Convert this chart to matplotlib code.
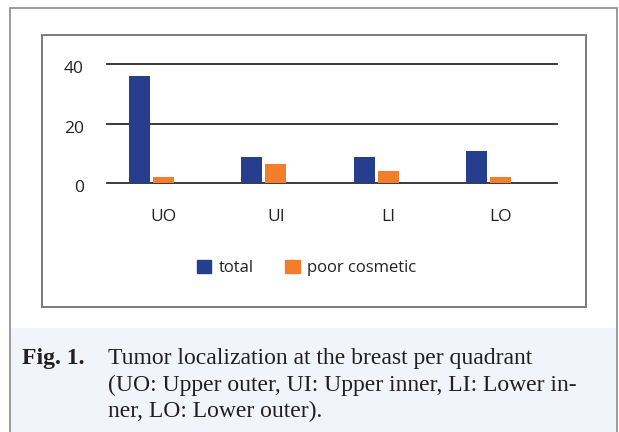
import numpy as np
import matplotlib
matplotlib.use('Agg')
import matplotlib.pyplot as plt
from matplotlib.patches import Rectangle, Patch
from matplotlib.transforms import ScaledTranslation

# data
quadrants = ['UO', 'UI', 'LI', 'LO']
total = [36, 9, 9, 11]
poor_cosmetic = [2, 6.5, 4, 2]
yticks = [0, 20, 40]

W, H = 619, 432
plt.rcParams['font.family'] = ['Open Sans', 'DejaVu Sans']

fig = plt.figure(figsize=(W/100, H/100), dpi=100)

def px(x0, y0, x1, y1): # pixel box (top-left origin) -> figure fraction rect
    return [x0/W, 1 - y1/H, (x1-x0)/W, (y1-y0)/H]

# caption background + outer frame
r = px(11, 328, 616, 433)
fig.patches.append(Rectangle((r[0], r[1]), r[2], r[3], transform=fig.transFigure,
                             facecolor='#f1f4fa', edgecolor='none', zorder=0))
r = px(10, 8, 617, 440)
fig.patches.append(Rectangle((r[0], r[1]), r[2], r[3], transform=fig.transFigure,
                             facecolor='none', edgecolor='#8a8a8a', lw=1.2, zorder=1))
# inner chart box
r = px(42, 35, 586, 307)
fig.patches.append(Rectangle((r[0], r[1]), r[2], r[3], transform=fig.transFigure,
                             facecolor='none', edgecolor='#7a7a7a', lw=1.4, zorder=1))

ax = fig.add_axes(px(107, 64.3, 557, 183.3))
x = np.arange(len(quadrants))
w = 0.187
ax.bar(x - 0.215, total, width=w, color='#253f8e', zorder=3)
ax.bar(x - 0.0, poor_cosmetic, width=w, color='#f47d2b', zorder=3)

ax.set_xlim(-0.5, 3.5)
ax.set_ylim(0, 40)
ax.set_yticks(yticks)
ax.set_xticks(x)
ax.set_xticklabels(quadrants)
for s in ax.spines.values():
    s.set_visible(False)
ax.set_facecolor('none')
for yv in yticks:
    ax.axhline(yv, color='#2b2b2b', lw=1.3, zorder=2, clip_on=False)
ax.tick_params(axis='both', length=0, labelsize=12.5, colors='#222222')
ax.tick_params(axis='x', pad=18.5)
ax.tick_params(axis='y', pad=16.5)
# y labels sit a little below their gridlines in the original
for lbl in ax.get_yticklabels():
    lbl.set_transform(lbl.get_transform() + ScaledTranslation(0, -3/100, fig.dpi_scale_trans))

handles = [Patch(color='#253f8e', label='total'),
           Patch(color='#f47d2b', label='poor cosmetic')]
fig.legend(handles=handles, loc='center', bbox_to_anchor=(306.5/W, 1 - 268/H),
           ncol=2, frameon=False, fontsize=12, handlelength=0.85, handleheight=0.8,
           handletextpad=0.45, columnspacing=1.9, labelcolor='#222222')

# caption
serif = ['Liberation Serif', 'DejaVu Serif']
fs = 17
fig.text(22/W, 1 - 364/H, 'Fig. 1.', family=serif, fontsize=fs, weight='bold',
         color='#231f20', va='baseline')
lines = ['Tumor localization at the breast per quadrant',
         '(UO: Upper outer, UI: Upper inner, LI: Lower in-',
         'ner, LO: Lower outer).']
for i, t in enumerate(lines):
    fig.text(108/W, 1 - (364 + 26.5*i)/H, t, family=serif, fontsize=fs,
             color='#231f20', va='baseline')

fig.savefig('out.png', dpi=100)
